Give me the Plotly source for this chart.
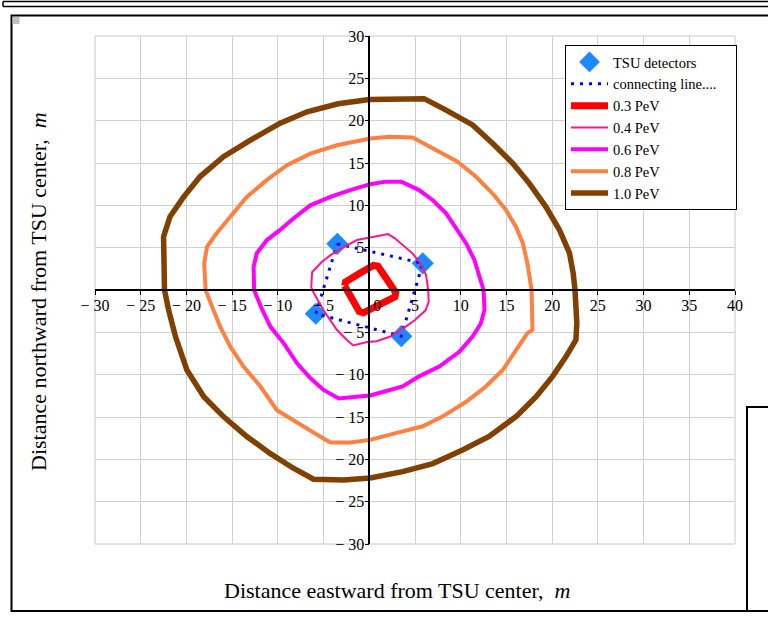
import plotly.graph_objects as go

# ---------------- data ----------------
det_x = [-3.5, 5.85, 3.5, -5.85]
det_y = [5.45, 3.15, -5.45, -2.8]

# connecting line (closed polygon through detectors)
conn_x = [-3.5, 5.85, 3.5, -5.85, -3.5]
conn_y = [5.45, 3.15, -5.45, -2.8, 5.45]

p03_x = [-2.7, -2.6, -1.0, 0.45, 0.95, 1.95, 2.9, 2.8, 1.05, -0.65, -1.1, -2.05, -2.7]
p03_y = [0.5, 0.95, 2.0, 2.9, 2.8, 1.2, -0.3, -0.8, -1.8, -2.7, -2.55, -0.75, 0.5]

p04_x = [-6.35, -6.25, -5.2, -4.2, -2.8, -1.35, -0.2, 2.05, 2.8, 3.7, 4.75, 5.6, 6.2, 6.45,
         6.5, 6.15, 5.0, 3.75, 2.3, 0.8, -0.25, -1.75, -2.45, -3.55, -5.0, -6.1, -6.35]
p04_y = [0.3, 2.1, 3.3, 4.15, 5.05, 5.9, 6.15, 6.6, 6.1, 5.25, 4.3, 3.15, 1.8, 0.0,
         -1.4, -2.4, -3.55, -4.5, -5.5, -6.05, -6.15, -6.55, -5.9, -4.7, -2.4, -0.3, 0.3]

p06_x = [-12.6, -12.65, -12.3, -11.2, -9.75, -8.3, -6.45, -4.25, -2.1, 0.1, 1.8, 3.5, 5.45,
         6.95, 8.4, 9.65, 10.6, 11.5, 12.05, 12.5, 12.6, 12.2, 11.3, 9.85, 7.65, 5.45, 3.65,
         1.8, 0.1, -1.7, -3.35, -5.0, -6.45, -7.9, -9.35, -10.8, -11.7, -12.6]
p06_y = [0.0, 2.75, 4.35, 5.9, 7.1, 8.45, 10.0, 11.0, 11.8, 12.5, 12.8, 12.8, 11.8,
         10.6, 9.05, 7.1, 5.5, 3.55, 1.75, 0.0, -2.35, -3.95, -5.5, -7.3, -9.05, -10.2, -11.4,
         -12.0, -12.45, -12.65, -12.8, -11.8, -10.4, -8.65, -6.3, -4.35, -2.35, 0.0]

p08_x = [-17.9, -18.05, -17.75, -16.7, -15.2, -13.4, -11.2, -9.0, -6.45, -3.55, 0.1, 2.2,
         4.75, 7.3, 9.65, 11.65, 13.5, 14.95, 16.05, 16.8, 17.3, 17.75, 17.85, 17.85, 17.3,
         16.0, 14.6, 12.75, 10.6, 8.0, 5.85, 2.9, 0.1, -2.1, -4.25, -5.7, -7.9, -10.1, -11.9,
         -13.75, -15.2, -16.3, -17.2, -17.9]
p08_y = [0.0, 3.15, 5.1, 6.7, 8.65, 11.0, 13.0, 14.75, 16.1, 17.1, 17.9, 18.1,
         18.0, 16.5, 15.15, 13.4, 11.4, 9.45, 7.45, 5.5, 3.15, 0.0, -2.35, -4.7, -5.1,
         -7.1, -9.45, -11.4, -13.2, -14.95, -16.1, -16.9, -17.7, -18.0, -18.0, -17.1, -15.7, -14.2, -11.4,
         -9.05, -6.7, -4.35, -1.95, 0.0]

p10_x = [-22.4, -22.55, -22.5, -21.8, -20.3, -18.5, -15.95, -13.0, -9.75, -6.8, -5.4, -3.4,
         0.0, 6.0, 8.4, 11.3, 13.5, 15.7, 17.5, 19.3, 20.8, 21.9, 22.3, 22.5, 22.7, 22.6,
         21.5, 20.05, 18.25, 16.05, 13.1, 10.2, 6.95, 3.65, 0.1, -2.8, -6.1, -8.3, -10.85,
         -13.4, -15.95, -18.1, -19.95, -21.2, -21.95, -22.4]
p10_y = [0.0, 3.9, 6.3, 8.65, 11.0, 13.4, 15.75, 17.7, 19.7, 21.05, 21.4, 22.0,
         22.5, 22.6, 21.25, 19.5, 17.3, 14.95, 12.6, 9.85, 7.1, 4.35, 2.0, 0.0, -3.9, -5.9,
         -7.9, -10.2, -12.6, -14.95, -17.3, -18.9, -20.5, -21.45, -22.2, -22.45, -22.35, -21.05, -19.3,
         -17.3, -14.95, -12.6, -9.45, -5.5, -2.35, 0.0]

x_ticks = [-30, -25, -20, -15, -10, -5, 0, 5, 10, 15, 20, 25, 30, 35, 40]
y_ticks = [-30, -25, -20, -15, -10, -5, 5, 10, 15, 20, 25, 30]


def lab(v):
    if v < 0:
        return "\u2212 " + str(-v)
    if v == 0:
        return "\u00a0\u00a0\u00a0\u00a00"
    return str(v)


x_text = [lab(v) for v in x_ticks]
y_text = [lab(v) for v in y_ticks]

SERIF = "Liberation Serif, Times New Roman, serif"
W, H = 768, 619
ML, MR, MT, MB = 95, 33, 36, 75
PW, PH = W - ML - MR, H - MT - MB


def px(xp):
    return (xp - ML) / PW


def py(yp):
    return 1 - (yp - MT) / PH


fig = go.Figure()

fig.add_trace(go.Scatter(x=det_x, y=det_y, mode="markers", name="TSU detectors",
                         marker=dict(symbol="diamond", size=17, color="#1E88FF")))
fig.add_trace(go.Scatter(x=conn_x, y=conn_y, mode="lines",
                         name="connecting line....\u00a0\u00a0\u00a0\u00a0",
                         line=dict(color="#0000FF", width=3, dash="3px,6px")))
fig.add_trace(go.Scatter(x=p03_x, y=p03_y, mode="lines", name="0.3 PeV",
                         line=dict(color="#FF0000", width=7)))
fig.add_trace(go.Scatter(x=p04_x, y=p04_y, mode="lines", name="0.4 PeV",
                         line=dict(color="#FF1493", width=2)))
fig.add_trace(go.Scatter(x=p06_x, y=p06_y, mode="lines", name="0.6 PeV",
                         line=dict(color="#FF00FF", width=4)))
fig.add_trace(go.Scatter(x=p08_x, y=p08_y, mode="lines", name="0.8 PeV",
                         line=dict(color="#FF8040", width=4)))
fig.add_trace(go.Scatter(x=p10_x, y=p10_y, mode="lines", name="1.0 PeV",
                         line=dict(color="#804000", width=5.5)))

axis_common = dict(showgrid=True, gridcolor="#d0d0d0", gridwidth=1, zeroline=False,
                   showline=True, linecolor="black", linewidth=1.5,
                   ticks="outside", ticklen=4, tickcolor="black", tickwidth=1,
                   ticklabelstandoff=-3,
                   tickfont=dict(family=SERIF, size=16, color="black"))

fig.update_layout(
    width=W, height=H,
    margin=dict(l=ML, r=MR, t=MT, b=MB),
    paper_bgcolor="white", plot_bgcolor="white",
    xaxis=dict(range=[-30, 40], tickmode="array", tickvals=x_ticks, ticktext=x_text,
               anchor="free", position=0.5, **axis_common),
    yaxis=dict(range=[-30, 30], tickmode="array", tickvals=y_ticks, ticktext=y_text,
               anchor="free", position=30 / 70, **axis_common),
    showlegend=True,
    legend=dict(x=px(565), y=py(45), xanchor="left", yanchor="top",
                bgcolor="white", bordercolor="black", borderwidth=1,
                font=dict(family=SERIF, size=14.5, color="black"),
                itemwidth=37, tracegroupgap=0),
    annotations=[
        dict(text="Distance eastward from TSU center,  <i>m</i>", xref="paper", yref="paper",
             x=px(397), y=py(590), xanchor="center", yanchor="middle", showarrow=False,
             font=dict(family=SERIF, size=22, color="black")),
        dict(text="Distance northward from TSU center,  <i>m</i>", xref="paper", yref="paper",
             x=px(38), y=py(292), xanchor="center", yanchor="middle", showarrow=False,
             textangle=-90, font=dict(family=SERIF, size=22, color="black")),
    ],
    shapes=[
        # plot-area border
        dict(type="rect", xref="paper", yref="paper", x0=0, x1=1, y0=0, y1=1,
             line=dict(color="#c8c8c8", width=1), layer="below"),
        # top double rule
        dict(type="line", xref="paper", yref="paper", x0=px(3), x1=px(780), y0=py(1.5), y1=py(1.5),
             line=dict(color="black", width=1.5)),
        dict(type="line", xref="paper", yref="paper", x0=px(3), x1=px(780), y0=py(6.5), y1=py(6.5),
             line=dict(color="black", width=1.5)),
        dict(type="line", xref="paper", yref="paper", x0=px(3), x1=px(3), y0=py(1.5), y1=py(6.5),
             line=dict(color="black", width=1.5)),
        # main region frame
        dict(type="rect", xref="paper", yref="paper", x0=px(11.5), x1=px(790), y0=py(611), y1=py(15.5),
             line=dict(color="black", width=2)),
        # small grey square
        dict(type="rect", xref="paper", yref="paper", x0=px(12.5), x1=px(19.5), y0=py(24), y1=py(17),
             line=dict(width=0), fillcolor="#c0c0c0"),
        # right-bottom box
        dict(type="rect", xref="paper", yref="paper", x0=px(747), x1=px(790), y0=py(611), y1=py(407),
             line=dict(color="black", width=2), fillcolor="white"),
    ],
)

fig.write_html("out.html", config={"displayModeBar": False},
               post_script="document.body.style.margin='0';")
